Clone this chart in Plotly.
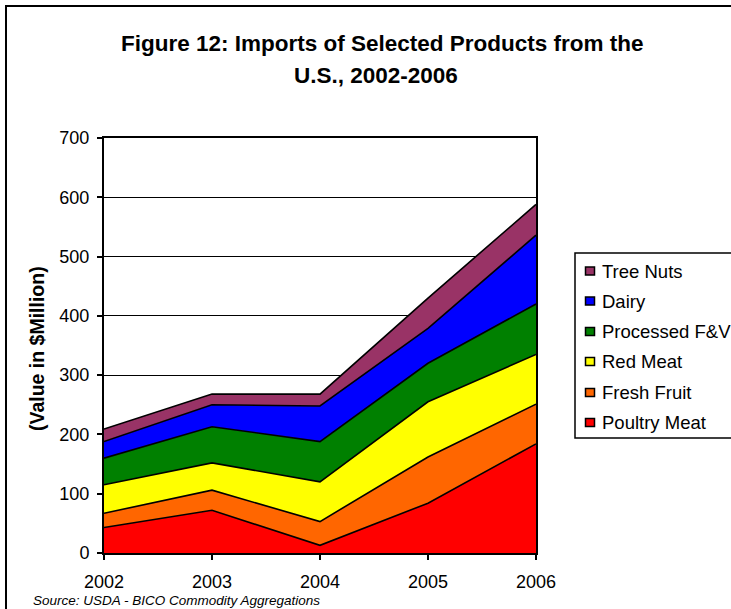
import plotly.graph_objects as go

years = ["2002", "2003", "2004", "2005", "2006"]
series_names = ["Poultry Meat", "Fresh Fruit", "Red Meat", "Processed F&V", "Dairy", "Tree Nuts"]
poultry_meat = [43, 72, 13, 84, 184]
fresh_fruit = [24, 34, 40, 78, 67]
red_meat = [48, 46, 67, 93, 84]
processed_fv = [45, 61, 68, 65, 85]
dairy = [28, 37, 60, 59, 116]
tree_nuts = [21, 18, 20, 51, 52]
series_values = [poultry_meat, fresh_fruit, red_meat, processed_fv, dairy, tree_nuts]
colors = ["#FF0000", "#FF6600", "#FFFF00", "#008000", "#0000FF", "#993366"]
y_ticks = [0, 100, 200, 300, 400, 500, 600, 700]

W, H = 731, 609
L, R, T, B = 104, 536, 138, 553
FONT = "Liberation Sans, Arial, sans-serif"


def px(x):
    return (x - L) / (R - L)


def py(y):
    return (B - y) / (B - T)


fig = go.Figure()
for name, vals, col in zip(series_names, series_values, colors):
    fig.add_trace(go.Scatter(
        x=years, y=vals, name=name, mode="lines", stackgroup="one",
        line=dict(color="black", width=1.6), fillcolor=col, showlegend=False,
    ))

shapes = []
annotations = []

# outer chart border
shapes.append(dict(type="rect", xref="paper", yref="paper",
                   x0=px(6), x1=px(760), y0=py(640), y1=py(6),
                   line=dict(color="black", width=2), layer="below"))

# legend box
shapes.append(dict(type="rect", xref="paper", yref="paper",
                   x0=px(575), x1=px(760), y0=py(438), y1=py(253),
                   line=dict(color="black", width=1.5), fillcolor="white"))

leg_y = [422.5, 392.5, 361.5, 331.5, 301, 271]
for name, col, yc in zip(series_names, colors, leg_y):
    shapes.append(dict(type="rect", xref="paper", yref="paper",
                       x0=px(585.5), x1=px(594.5), y0=py(yc + 4), y1=py(yc - 4),
                       line=dict(color="black", width=1.5), fillcolor=col))
    annotations.append(dict(text=name, xref="paper", yref="paper",
                            x=px(600), y=py(yc), xanchor="left", yanchor="middle",
                            showarrow=False, font=dict(family=FONT, size=18.5, color="black")))

# title
annotations.append(dict(text="<b>Figure 12: Imports of Selected Products from the</b>",
                        xref="paper", yref="paper", x=px(382), y=py(44),
                        xanchor="center", yanchor="middle", showarrow=False,
                        font=dict(family=FONT, size=22.5, color="black")))
annotations.append(dict(text="<b>U.S., 2002-2006</b>",
                        xref="paper", yref="paper", x=px(376), y=py(75),
                        xanchor="center", yanchor="middle", showarrow=False,
                        font=dict(family=FONT, size=22.5, color="black")))

# y-axis title
annotations.append(dict(text="<b>(Value in $Million)</b>", xref="paper", yref="paper",
                        x=px(37), y=py(349), xanchor="center", yanchor="middle",
                        textangle=-90, showarrow=False,
                        font=dict(family=FONT, size=19.5, color="black")))

# source
annotations.append(dict(text="<i>Source: USDA - BICO Commodity Aggregations</i>",
                        xref="paper", yref="paper", x=px(31), y=py(600.5),
                        xanchor="left", yanchor="middle", showarrow=False,
                        font=dict(family=FONT, size=13.5, color="black")))

fig.update_layout(
    width=W, height=H,
    margin=dict(l=L, r=W - R, t=T, b=H - B, autoexpand=False),
    paper_bgcolor="white", plot_bgcolor="white",
    shapes=shapes, annotations=annotations,
    xaxis=dict(type="category", range=[0, 4], showgrid=False,
               showline=True, linecolor="black", linewidth=2, mirror=True,
               ticks="outside", ticklen=5, tickcolor="black", tickwidth=1.5,
               tickfont=dict(family=FONT, size=18, color="black"),
               ticklabelstandoff=6, zeroline=False),
    yaxis=dict(range=[0, 700], tickvals=y_ticks, showgrid=True,
               gridcolor="black", gridwidth=1,
               showline=True, linecolor="black", linewidth=2, mirror=True,
               ticks="outside", ticklen=5, tickcolor="black", tickwidth=1.5,
               tickfont=dict(family=FONT, size=18, color="black"),
               ticklabelstandoff=4, zeroline=False),
)

fig.write_html("out.html")
